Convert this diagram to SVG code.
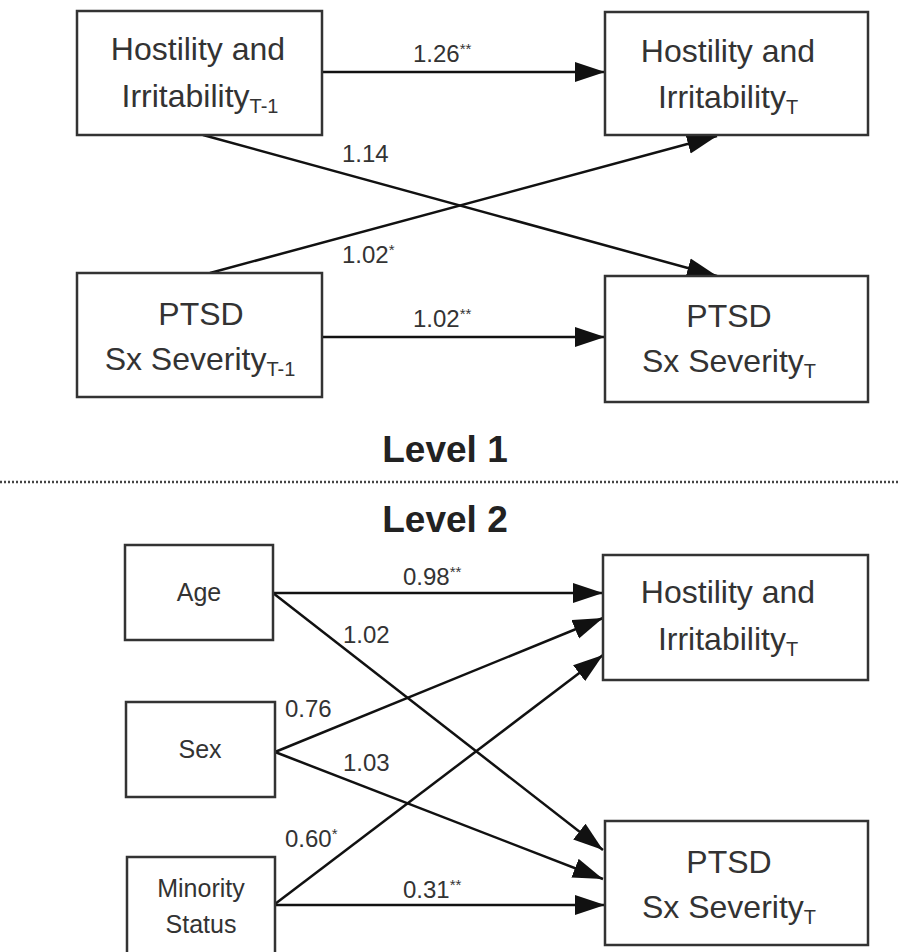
<svg xmlns="http://www.w3.org/2000/svg" width="898" height="952" viewBox="0 0 898 952">
<style>
.box{fill:#fff;stroke:#333;stroke-width:2.5}
.t{font-family:"Liberation Sans",Arial,sans-serif;fill:#333;text-anchor:middle}
.big{font-size:32px}
.sm{font-size:25px}
.sub{font-size:20px}
.lab{font-family:"Liberation Sans",Arial,sans-serif;fill:#333;font-size:24px}
.st{font-size:15px}
.lvl{font-family:"Liberation Sans",Arial,sans-serif;font-weight:bold;font-size:37px;fill:#222;text-anchor:middle}
.ln{stroke:#111;stroke-width:2.5;fill:none;marker-end:url(#ah)}
</style>
<defs>
<marker id="ah" markerUnits="userSpaceOnUse" markerWidth="31" markerHeight="21" refX="30" refY="10" orient="auto" viewBox="0 0 31 20">
<path d="M0,0 L30,10 L0,20 z" fill="#111"/>
</marker>
</defs>
<rect width="898" height="952" fill="#fff"/>
<g id="connectors">
<line class="ln" x1="322" y1="72" x2="605" y2="72"/>
<line class="ln" x1="322" y1="337" x2="605" y2="337"/>
<line class="ln" x1="203" y1="135" x2="717" y2="276"/>
<line class="ln" x1="210" y1="273" x2="717" y2="136"/>
<line class="ln" x1="273" y1="593" x2="603" y2="593"/>
<line class="ln" x1="273" y1="593" x2="603" y2="850"/>
<line class="ln" x1="275" y1="752" x2="603" y2="618"/>
<line class="ln" x1="275" y1="752" x2="603" y2="879"/>
<line class="ln" x1="275" y1="904" x2="603" y2="655"/>
<line class="ln" x1="275" y1="905" x2="605" y2="905"/>
</g>
<g id="labels">
<text class="lab" x="413" y="62">1.26<tspan class="st" dy="-8">**</tspan></text>
<text class="lab" x="342" y="162">1.14</text>
<text class="lab" x="342" y="263">1.02<tspan class="st" dy="-8">*</tspan></text>
<text class="lab" x="413" y="327">1.02<tspan class="st" dy="-8">**</tspan></text>
<text class="lab" x="403" y="585">0.98<tspan class="st" dy="-8">**</tspan></text>
<text class="lab" x="343" y="643">1.02</text>
<text class="lab" x="285" y="717">0.76</text>
<text class="lab" x="343" y="771">1.03</text>
<text class="lab" x="285" y="847">0.60<tspan class="st" dy="-8">*</tspan></text>
<text class="lab" x="403" y="898">0.31<tspan class="st" dy="-8">**</tspan></text>
</g>
<g id="hostility-t1">
<rect class="box" x="77" y="11" width="245" height="124"/>
<text class="t big" x="198" y="60">Hostility and</text>
<text class="t big" x="200" y="107">Irritability<tspan class="sub" dy="6">T-1</tspan></text>
</g>
<g id="hostility-t">
<rect class="box" x="605" y="12" width="263" height="123"/>
<text class="t big" x="728" y="62">Hostility and</text>
<text class="t big" x="728" y="108">Irritability<tspan class="sub" dy="6">T</tspan></text>
</g>
<g id="ptsd-t1">
<rect class="box" x="77" y="273" width="245" height="124"/>
<text class="t big" x="201" y="325">PTSD</text>
<text class="t big" x="200" y="370">Sx Severity<tspan class="sub" dy="6">T-1</tspan></text>
</g>
<g id="ptsd-t">
<rect class="box" x="605" y="276" width="263" height="126"/>
<text class="t big" x="729" y="327">PTSD</text>
<text class="t big" x="729" y="372">Sx Severity<tspan class="sub" dy="6">T</tspan></text>
</g>
<g id="level-labels">
<text class="lvl" x="445" y="462">Level 1</text>
<line x1="0" y1="482" x2="898" y2="482" stroke="#444" stroke-width="2.5" stroke-dasharray="2,2"/>
<text class="lvl" x="445" y="532">Level 2</text>
</g>
<g id="age">
<rect class="box" x="125" y="545" width="148" height="95"/>
<text class="t sm" x="199" y="601">Age</text>
</g>
<g id="sex">
<rect class="box" x="126" y="702" width="149" height="95"/>
<text class="t sm" x="200" y="758">Sex</text>
</g>
<g id="minority">
<rect class="box" x="127" y="857" width="148" height="100"/>
<text class="t sm" x="201" y="897">Minority</text>
<text class="t sm" x="201" y="933">Status</text>
</g>
<g id="hostility-t-l2">
<rect class="box" x="603" y="555" width="265" height="125"/>
<text class="t big" x="728" y="603">Hostility and</text>
<text class="t big" x="728" y="650">Irritability<tspan class="sub" dy="6">T</tspan></text>
</g>
<g id="ptsd-t-l2">
<rect class="box" x="605" y="821" width="263" height="124"/>
<text class="t big" x="729" y="873">PTSD</text>
<text class="t big" x="729" y="918">Sx Severity<tspan class="sub" dy="6">T</tspan></text>
</g>
</svg>
